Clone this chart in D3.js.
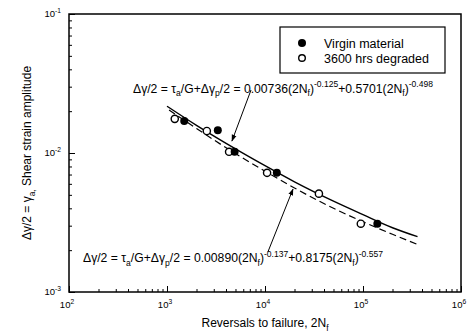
<!DOCTYPE html>
<html>
<head>
<meta charset="utf-8">
<script src="https://cdn.jsdelivr.net/npm/d3@7"></script>
<style>
  body { margin: 0; background: #fff; }
  svg { display: block; font-family: "Liberation Sans", Arial, sans-serif; }
</style>
</head>
<body>
<div id="chart"></div>
<script>
// values
const virginN = [1500, 3300, 4900, 13200, 140000];
const virginAmp = [0.0170, 0.0146, 0.0102, 0.0072, 0.0031];
const degradedN = [1200, 2550, 4300, 10500, 35500, 95000];
const degradedAmp = [0.0176, 0.0144, 0.0102, 0.0072, 0.0051, 0.0031];

// fitted curves
const virginFitN = [1000, 2000, 5000, 1e4, 2e4, 5e4, 1e5, 2e5, 3.6e5];
const virginFit = [0.0217, 0.0158, 0.0107, 0.0081, 0.0062, 0.0045, 0.0036, 0.0029, 0.0025];
const degradedFitN = [1050, 2000, 5000, 1e4, 2e4, 5e4, 1e5, 2e5, 3.6e5];
const degradedFit = [0.0204, 0.0150, 0.0099, 0.0074, 0.0056, 0.0040, 0.0032, 0.0026, 0.0022];

// tick labels (base 10, exponent)
const xTickValues = [1e2, 1e3, 1e4, 1e5, 1e6];
const xTickExp = ["2", "3", "4", "5", "6"];
const yTickValues = [1e-1, 1e-2, 1e-3];
const yTickExp = ["-1", "-2", "-3"];

const legendLabels = ["Virgin material", "3600 hrs degraded"];

const width = 468, height = 336;
const margin = { left: 69, right: 7, top: 14, bottom: 44 };

const svg = d3.select("#chart").append("svg")
    .attr("width", width)
    .attr("height", height);

const x = d3.scaleLog().domain([1e2, 1e6]).range([margin.left, width - margin.right]);
const y = d3.scaleLog().domain([1e-3, 1e-1]).range([height - margin.bottom, margin.top]);

// **minor + major ticks, pointing inward**
function minorTicks(scale) {
    const [a, b] = scale.domain();
    return scale.ticks().filter(v => v >= Math.min(a, b) && v <= Math.max(a, b));
}

svg.append("g")
    .attr("transform", `translate(0,${y.range()[0]})`)
    .call(d3.axisBottom(x).tickValues(minorTicks(x)).tickFormat("").tickSizeInner(-3).tickSizeOuter(0))
    .call(g => g.select(".domain").remove());
svg.append("g")
    .attr("transform", `translate(0,${y.range()[0]})`)
    .call(d3.axisBottom(x).tickValues(xTickValues).tickFormat("").tickSizeInner(-6).tickSizeOuter(0))
    .call(g => g.select(".domain").remove());

svg.append("g")
    .attr("transform", `translate(${x.range()[0]},0)`)
    .call(d3.axisLeft(y).tickValues(minorTicks(y)).tickFormat("").tickSizeInner(-3).tickSizeOuter(0))
    .call(g => g.select(".domain").remove());
svg.append("g")
    .attr("transform", `translate(${x.range()[0]},0)`)
    .call(d3.axisLeft(y).tickValues(yTickValues).tickFormat("").tickSizeInner(-6).tickSizeOuter(0))
    .call(g => g.select(".domain").remove());

// frame
svg.append("rect")
    .attr("x", x.range()[0])
    .attr("y", y.range()[1])
    .attr("width", x.range()[1] - x.range()[0])
    .attr("height", y.range()[0] - y.range()[1])
    .attr("fill", "none")
    .attr("stroke", "#000")
    .attr("stroke-width", 1.5);

// text with sub/superscripts
function rich(sel, parts, size) {
    let cur = 0;
    parts.forEach(([str, mode]) => {
        const target = mode === "sub" ? size * 0.3 : mode === "sup" ? -size * 0.45 : 0;
        sel.append("tspan")
            .attr("dy", target - cur)
            .attr("font-size", mode ? size * 0.7 : size)
            .text(str);
        cur = target;
    });
}

// tick labels
xTickValues.forEach((v, i) => {
    const t = svg.append("text")
        .attr("x", x(v) - 2)
        .attr("y", y.range()[0] + 16)
        .attr("text-anchor", "middle");
    rich(t, [["10"], [xTickExp[i], "sup"]], 9.5);
});
yTickValues.forEach((v, i) => {
    const t = svg.append("text")
        .attr("x", x.range()[0] - 8)
        .attr("y", y(v) + 3)
        .attr("text-anchor", "end");
    rich(t, [["10"], [yTickExp[i], "sup"]], 9.5);
});

// axis titles
const xt = svg.append("text")
    .attr("x", (x.range()[0] + x.range()[1]) / 2)
    .attr("y", height - 9)
    .attr("text-anchor", "middle");
rich(xt, [["Reversals to failure, 2N"], ["f", "sub"]], 12);

const yt = svg.append("text")
    .attr("transform", `translate(31,${(y.range()[0] + y.range()[1]) / 2}) rotate(-90)`)
    .attr("text-anchor", "middle");
rich(yt, [["\u0394\u03b3/2 = \u03b3"], ["a,", "sub"], [" Shear strain amplitude"]], 12);

// fitted curves
const line = d3.line()
    .x(d => x(d[0]))
    .y(d => y(d[1]))
    .curve(d3.curveMonotoneX);

svg.append("path")
    .datum(d3.zip(virginFitN, virginFit))
    .attr("fill", "none")
    .attr("stroke", "#000")
    .attr("stroke-width", 1.4)
    .attr("d", line);

svg.append("path")
    .datum(d3.zip(degradedFitN, degradedFit))
    .attr("fill", "none")
    .attr("stroke", "#000")
    .attr("stroke-width", 1.2)
    .attr("stroke-dasharray", "7,4")
    .attr("d", line);

// data points
svg.selectAll("circle.degraded")
    .data(d3.zip(degradedN, degradedAmp))
    .enter().append("circle")
    .attr("class", "degraded")
    .attr("cx", d => x(d[0]))
    .attr("cy", d => y(d[1]))
    .attr("r", 3.6)
    .attr("fill", "#fff")
    .attr("stroke", "#000")
    .attr("stroke-width", 1.4);

svg.selectAll("circle.virgin")
    .data(d3.zip(virginN, virginAmp))
    .enter().append("circle")
    .attr("class", "virgin")
    .attr("cx", d => x(d[0]))
    .attr("cy", d => y(d[1]))
    .attr("r", 4)
    .attr("fill", "#000");

// arrows to curves
svg.append("defs").append("marker")
    .attr("id", "arrow")
    .attr("viewBox", "0 0 10 10")
    .attr("refX", 9).attr("refY", 5)
    .attr("markerWidth", 7).attr("markerHeight", 7)
    .attr("orient", "auto")
    .append("path")
    .attr("d", "M0,1.5L10,5L0,8.5Z")
    .attr("fill", "#000");

const arrows = [
    [[7200, 0.0284], [4600, 0.0122]],
    [[10700, 0.00194], [19300, 0.0055]]
];
arrows.forEach(([from, to]) => {
    svg.append("line")
        .attr("x1", x(from[0])).attr("y1", y(from[1]))
        .attr("x2", x(to[0])).attr("y2", y(to[1]))
        .attr("stroke", "#000")
        .attr("stroke-width", 1)
        .attr("marker-end", "url(#arrow)");
});

// equations
const eq1 = svg.append("text").attr("x", x(450)).attr("y", y(0.0272));
rich(eq1, [["\u0394\u03b3/2 = \u03c4"], ["a", "sub"], ["/G+\u0394\u03b3"], ["p", "sub"],
    ["/2 = 0.00736(2N"], ["f", "sub"], [")"], ["-0.125", "sup"],
    ["+0.5701(2N"], ["f", "sub"], [")"], ["-0.498", "sup"]], 12.2);

const eq2 = svg.append("text").attr("x", x(139)).attr("y", y(0.00164));
rich(eq2, [["\u0394\u03b3/2 = \u03c4"], ["a", "sub"], ["/G+\u0394\u03b3"], ["p", "sub"],
    ["/2 = 0.00890(2N"], ["f", "sub"], [")"], ["-0.137", "sup"],
    ["+0.8175(2N"], ["f", "sub"], [")"], ["-0.557", "sup"]], 12.2);

// legend
const legend = svg.append("g");
legend.append("rect")
    .attr("x", 280).attr("y", 27)
    .attr("width", 165).attr("height", 46)
    .attr("fill", "#fff")
    .attr("stroke", "#000")
    .attr("stroke-width", 1.2);

legendLabels.forEach((label, i) => {
    const cy = 43 + i * 15;
    legend.append("circle")
        .attr("cx", 302).attr("cy", cy)
        .attr("r", i === 0 ? 4 : 3.3)
        .attr("fill", i === 0 ? "#000" : "#fff")
        .attr("stroke", "#000")
        .attr("stroke-width", i === 0 ? 0 : 1.4);
    legend.append("text")
        .attr("x", 324).attr("y", cy + 4.5)
        .attr("font-size", 12.5)
        .text(label);
});
</script>
</body>
</html>
